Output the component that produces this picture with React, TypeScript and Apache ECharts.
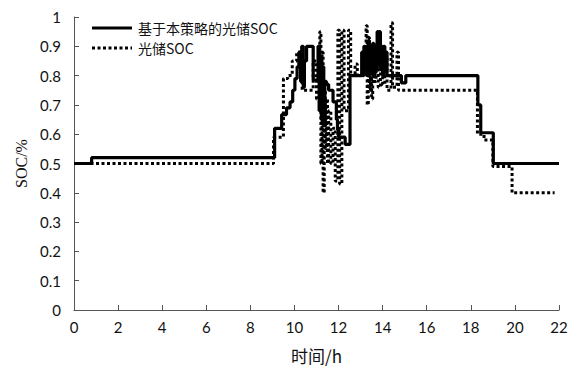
import React, { useEffect, useRef } from "react";
import * as echarts from "echarts";

const seriesNames = ["基于本策略的光储SOC", "光储SOC"];
const xTicks = [0, 22, 2];
const yTicks = [0, 1, 0.1];

// [time (h), SOC] — value holds from this time until the next point
const strategySOC: [number, number][] = [
  [0, 0.5], [0.8, 0.52], [9.1, 0.62], [9.42, 0.667], [9.64, 0.69], [9.8, 0.71],
  [9.92, 0.75], [10.02, 0.79], [10.12, 0.83], [10.2, 0.88], [10.28, 0.78], [10.33, 0.9],
  [10.4, 0.76], [10.45, 0.85], [10.55, 0.9], [10.85, 0.785], [11.07, 0.9], [11.12, 0.68],
  [11.18, 0.86], [11.22, 0.65], [11.28, 0.83], [11.33, 0.63], [11.38, 0.78], [11.45, 0.77],
  [11.55, 0.75], [11.75, 0.71], [11.9, 0.65], [11.95, 0.615], [12.0, 0.59], [12.3, 0.565],
  [12.52, 0.8], [13.05, 0.88], [13.1, 0.8], [13.15, 0.9], [13.2, 0.82], [13.25, 0.9],
  [13.3, 0.8], [13.35, 0.92], [13.4, 0.81], [13.45, 0.9], [13.5, 0.83], [13.55, 0.91],
  [13.6, 0.8], [13.65, 0.9], [13.7, 0.82], [13.75, 0.95], [13.8, 0.85], [13.85, 0.95],
  [13.9, 0.82], [13.95, 0.9], [14.0, 0.8], [14.05, 0.9], [14.1, 0.82], [14.15, 0.88],
  [14.2, 0.8], [14.85, 0.775], [15.05, 0.8], [18.32, 0.7], [18.45, 0.605], [19.02, 0.5],
  [22, 0.5],
];

const pvSOC: [number, number][] = [
  [0, 0.5], [9.05, 0.59], [9.5, 0.79], [9.7, 0.8], [9.9, 0.85], [10.1, 0.88],
  [10.35, 0.75], [10.85, 0.85], [11.0, 0.72], [11.15, 0.95], [11.2, 0.5], [11.25, 0.88],
  [11.3, 0.4], [11.35, 0.75], [11.4, 0.55], [11.45, 0.72], [11.5, 0.5], [11.55, 0.68],
  [11.65, 0.5], [11.75, 0.62], [11.85, 0.44], [11.97, 0.955], [12.05, 0.43], [12.15, 0.955],
  [12.25, 0.68], [12.45, 0.955], [12.55, 0.8], [12.75, 0.84], [12.85, 0.8], [13.25, 0.97],
  [13.3, 0.7], [13.35, 0.93], [13.4, 0.75], [13.45, 0.9], [13.5, 0.72], [13.55, 0.88],
  [13.6, 0.78], [13.7, 0.85], [13.8, 0.76], [13.9, 0.88], [14.0, 0.77], [14.1, 0.86],
  [14.2, 0.75], [14.38, 0.98], [14.45, 0.76], [14.65, 0.88], [14.72, 0.75], [18.3, 0.6],
  [18.6, 0.58], [19.0, 0.49], [19.87, 0.4], [21.8, 0.4],
];

const dotDash = [3, 2.5];

export default function App() {
  const ref = useRef<HTMLDivElement>(null);
  useEffect(() => {
    if (!ref.current) return;
    const chart = echarts.init(ref.current, undefined, { renderer: "svg" });
    const numFont = "Lato, 'Noto Sans CJK SC', sans-serif";
    const cjkFont = "'Noto Sans CJK SC', sans-serif";
    const legendRows = [28, 48];
    chart.setOption({
      animation: false,
      backgroundColor: "#ffffff",
      grid: { left: 74, right: 12, top: 17, bottom: 58, containLabel: false },
      graphic: [
        {
          type: "line",
          shape: { x1: 92, y1: legendRows[0], x2: 132, y2: legendRows[0] },
          style: { stroke: "#000", lineWidth: 3 },
          z: 10,
        },
        {
          type: "text",
          x: 138,
          y: legendRows[0],
          style: {
            text: seriesNames[0],
            fontFamily: cjkFont,
            fontSize: 14,
            lineHeight: 16,
            fill: "#111",
            verticalAlign: "middle",
          },
          z: 10,
        },
        {
          type: "line",
          shape: { x1: 92, y1: legendRows[1], x2: 132, y2: legendRows[1] },
          style: { stroke: "#000", lineWidth: 3, lineDash: dotDash },
          z: 10,
        },
        {
          type: "text",
          x: 138,
          y: legendRows[1],
          style: {
            text: seriesNames[1],
            fontFamily: cjkFont,
            fontSize: 14,
            lineHeight: 16,
            fill: "#111",
            verticalAlign: "middle",
          },
          z: 10,
        },
      ],
      xAxis: {
        type: "value",
        min: xTicks[0],
        max: xTicks[1],
        interval: xTicks[2],
        name: "时间/h",
        nameLocation: "middle",
        nameGap: 37,
        nameTextStyle: { fontFamily: cjkFont, fontSize: 17, color: "#111" },
        axisLine: { lineStyle: { color: "#555", width: 1 } },
        axisTick: { inside: true, length: 5, lineStyle: { color: "#555" } },
        axisLabel: { fontFamily: numFont, fontSize: 15, color: "#111", margin: 9 },
        splitLine: { show: false },
      },
      yAxis: {
        type: "value",
        min: yTicks[0],
        max: yTicks[1],
        interval: yTicks[2],
        name: "SOC/%",
        nameLocation: "middle",
        nameGap: 36,
        nameRotate: 90,
        nameTextStyle: { fontFamily: "'Liberation Serif', serif", fontSize: 16, color: "#111" },
        axisLine: { show: true, lineStyle: { color: "#555", width: 1 } },
        axisTick: { show: true, inside: true, length: 5, lineStyle: { color: "#555" } },
        axisLabel: {
          fontFamily: numFont,
          fontSize: 15,
          color: "#111",
          margin: 13,
          formatter: (v: number) => String(Math.round(v * 10) / 10),
        },
        splitLine: { show: false },
      },
      series: [
        {
          name: seriesNames[0],
          type: "line",
          step: "end",
          symbol: "none",
          data: strategySOC,
          lineStyle: { color: "#000", width: 3.2 },
          itemStyle: { color: "#000" },
          z: 3,
        },
        {
          name: seriesNames[1],
          type: "line",
          step: "end",
          symbol: "none",
          data: pvSOC,
          lineStyle: { color: "#000", width: 3, type: dotDash },
          itemStyle: { color: "#000" },
          z: 2,
        },
      ],
    });
    return () => chart.dispose();
  }, []);
  return (
    <div
      ref={ref}
      style={{ position: "fixed", left: 0, top: 0, width: 571, height: 369, background: "#fff" }}
    />
  );
}
